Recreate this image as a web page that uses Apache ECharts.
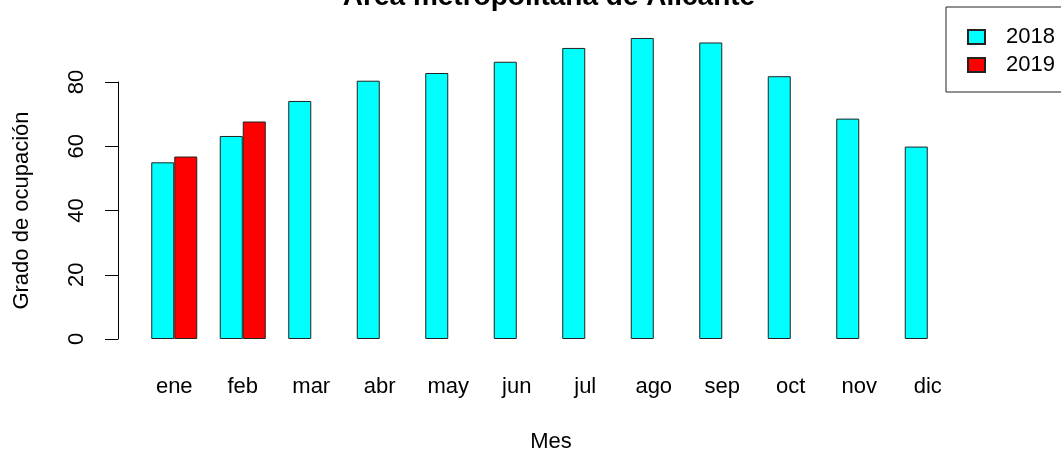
<!DOCTYPE html>
<html>
<head>
<meta charset="utf-8">
<script src="https://cdn.jsdelivr.net/npm/echarts@6/dist/echarts.min.js"></script>
<style>
  html, body { margin: 0; padding: 0; background: #fff; }
  #container { width: 1061px; height: 458px; }
</style>
</head>
<body>
<div id="container"></div>
<script>
// datos
var meses = ['ene', 'feb', 'mar', 'abr', 'may', 'jun', 'jul', 'ago', 'sep', 'oct', 'nov', 'dic'];
var ocup2018 = [55.0, 63.2, 74.1, 80.4, 82.8, 86.3, 90.6, 93.7, 92.3, 81.8, 68.6, 59.9];
var ocup2019 = [56.8, 67.7, null, null, null, null, null, null, null, null, null, null];
var ticksY = [0, 20, 40, 60, 80];

var fuente = "'Liberation Sans', Arial, sans-serif";
var chart = echarts.init(document.getElementById('container'));

var barStyle = function (color) {
  return { color: color, borderColor: '#222', borderWidth: 1 };
};

var option = {
  backgroundColor: '#fff',
  animation: false,
  title: {
    text: 'Área metropolitana de Alicante',
    left: 544,
    textAlign: 'center',
    top: -22,
    textStyle: { fontFamily: fuente, fontSize: 28, fontWeight: 'bold', color: '#000' }
  },
  legend: {
    orient: 'vertical',
    left: 946,
    top: 7,
    padding: [19, 30, 16, 21],
    borderColor: '#222',
    borderWidth: 1,
    borderRadius: 0,
    itemWidth: 17,
    itemHeight: 14,
    itemGap: 6,
    data: [
      { name: '2018', icon: 'rect' },
      { name: '2019', icon: 'rect' }
    ],
    textStyle: { fontFamily: fuente, fontSize: 22, color: '#000', padding: [0, 0, 0, 16] }
  },
  grid: { left: 140, right: 99, top: 82, bottom: 119 },
  xAxis: {
    type: 'category',
    data: meses,
    name: 'Mes',
    nameLocation: 'middle',
    nameGap: 92,
    nameTextStyle: { fontFamily: fuente, fontSize: 22, color: '#000' },
    axisLine: { show: false },
    axisTick: { show: false },
    axisLabel: { margin: 37, fontFamily: fuente, fontSize: 22, color: '#000' }
  },
  yAxis: {
    type: 'value',
    min: ticksY[0],
    max: ticksY[ticksY.length - 1],
    interval: 20,
    offset: 22,
    name: 'Grado de ocupación',
    nameLocation: 'middle',
    nameGap: 85,
    nameTextStyle: { fontFamily: fuente, fontSize: 22, color: '#000' },
    axisLine: { show: true, lineStyle: { color: '#000', width: 1 } },
    axisTick: { show: true, length: 13, lineStyle: { color: '#000' } },
    axisLabel: { rotate: 90, margin: 30, fontFamily: fuente, fontSize: 22, color: '#000' },
    splitLine: { show: false }
  },
  series: [
    {
      name: '2018',
      type: 'bar',
      data: ocup2018,
      barWidth: 23,
      barGap: '0%',
      clip: false,
      itemStyle: barStyle('#00FFFF')
    },
    {
      name: '2019',
      type: 'bar',
      data: ocup2019,
      barWidth: 23,
      clip: false,
      itemStyle: barStyle('#FF0000')
    }
  ]
};

chart.setOption(option);
</script>
</body>
</html>
